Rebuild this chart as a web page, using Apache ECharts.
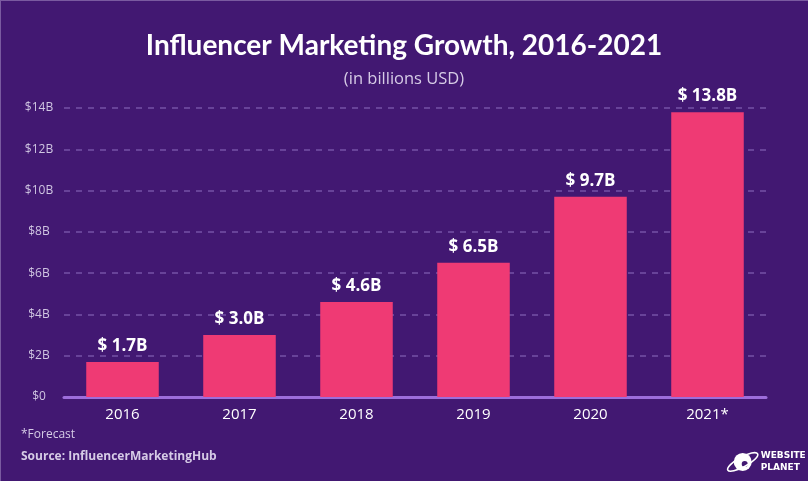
<!DOCTYPE html>
<html>
<head>
<meta charset="utf-8">
<script src="https://cdn.jsdelivr.net/npm/echarts@6/dist/echarts.min.js"></script>
<style>
html,body{margin:0;padding:0;background:#421872;}
#c{width:808px;height:481px;}
</style>
</head>
<body>
<div id="c"></div>
<script>
const categories = ['2016','2017','2018','2019','2020','2021*'];
const values = [1.7, 3.0, 4.6, 6.5, 9.7, 13.8];
const valueLabels = ['$ 1.7B','$ 3.0B','$ 4.6B','$ 6.5B','$ 9.7B','$ 13.8B'];
const yTickLabels = {0:'$0',2:'$2B',4:'$4B',6:'$6B',8:'$8B',10:'$10B',12:'$12B',14:'$14B'};

const chart = echarts.init(document.getElementById('c'), null, {renderer:'canvas'});
chart.setOption({
  backgroundColor:'#421872',
  animation:false,
  title:[
    {text:'Influencer Marketing Growth, 2016-2021', left:'center', top:27,
     textStyle:{color:'#ffffff', fontFamily:'Lato', fontWeight:'bold', fontSize:28}},
    {text:'(in billions USD)', left:'center', top:66,
     textStyle:{color:'#d6cbe6', fontFamily:'Open Sans', fontWeight:'normal', fontSize:16.5}}
  ],
  grid:{left:64, right:42, top:108, bottom:84},
  xAxis:{
    type:'category', data:categories,
    axisLine:{show:true, lineStyle:{color:'#9d6ddb', width:3}},
    axisTick:{show:false},
    axisLabel:{color:'#ffffff', fontFamily:'Open Sans', fontSize:15, margin:10}
  },
  yAxis:{
    type:'value', min:0, max:14, interval:2,
    axisLine:{show:false}, axisTick:{show:false},
    axisLabel:{color:'#d0c6e2', fontFamily:'Open Sans', fontSize:12, margin:25, align:'center',
      formatter:v=>yTickLabels[v]},
    splitLine:{show:true, lineStyle:{color:'#7651a6', type:[6,6], width:1.5}}
  },
  series:[{
    type:'bar', data:values, barWidth:'62%',
    itemStyle:{color:'#ef3a74'},
    label:{show:true, position:'top', distance:7, color:'#ffffff',
      fontFamily:'Open Sans', fontWeight:'bold', fontSize:17,
      formatter:p=>valueLabels[p.dataIndex]},
    z:3
  }],
  graphic:[
    {type:'text', left:21, top:429, style:{text:'*Forecast', fill:'#d6cbe6', font:'12px "Open Sans"'}},
    {type:'text', left:21, top:451, style:{text:'Source: InfluencerMarketingHub', fill:'#d6cbe6', font:'bold 12px "Open Sans"'}},
    {type:'group', left:722, top:446, children:[
      {type:'circle', shape:{cx:15, cy:15, r:9}, style:{fill:'#ffffff'}},
      {type:'circle', shape:{cx:17, cy:17, r:3}, style:{fill:'#421872'}},
      {type:'ellipse', shape:{cx:15, cy:15, rx:17, ry:5}, rotation:0.5, originX:15, originY:15, style:{stroke:'#ffffff', lineWidth:1.6, fill:null}},
      {type:'text', x:33, y:4, style:{text:'WEBSITE', fill:'#ffffff', font:'bold 9px "DejaVu Sans"'}},
      {type:'text', x:33, y:16, style:{text:'PLANET', fill:'#ffffff', font:'bold 9px "DejaVu Sans"'}}
    ]},
    {type:'rect', left:0, top:0, shape:{width:808, height:1}, style:{fill:'#7a5aa0'}},
    {type:'rect', left:0, top:0, shape:{width:1, height:481}, style:{fill:'#7a5aa0'}}
  ]
});
</script>
</body>
</html>
